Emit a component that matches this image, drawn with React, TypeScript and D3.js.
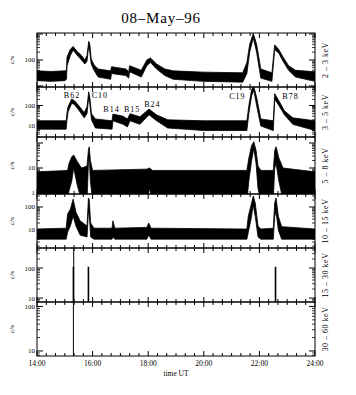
import React from 'react';
import * as d3 from 'd3';

const title = '08–May–96';
const xAxisTitle = 'time UT';
const yAxisTitle = 'c/s';
const xTickHours = [14, 16, 18, 20, 22, 24];
const xTickLabels = ['14:00', '16:00', '18:00', '20:00', '22:00', '24:00'];
const bandLabels = ['2 – 3 keV', '3 – 5 keV', '5 – 8 keV', '10 – 15 keV', '15 – 30 keV', '30 – 60 keV'];

// Panel 1: 2-3 keV (time in decimal hours UT, lower / upper envelope in c/s)
const p1Time = [14.0, 14.5, 15.0, 15.06, 15.08, 15.2, 15.3, 15.45, 15.6, 15.72, 15.8, 15.86, 15.9, 15.95, 16.05, 16.2, 16.65, 16.68, 17.2, 17.3, 17.33, 17.75, 17.95, 18.08, 18.3, 18.6, 18.9, 20.0, 21.4, 21.55, 21.65, 21.78, 21.9, 22.05, 22.45, 22.55, 22.7, 22.85, 23.05, 23.3, 24.0];
const p1Lo = [16, 15, 16, 18, 60, 150, 240, 150, 100, 70, 90, 350, 200, 70, 40, 22, 18, 30, 25, 20, 35, 22, 60, 80, 45, 25, 18, 15, 14, 30, 200, 700, 200, 20, 15, 250, 180, 90, 40, 22, 15];
const p1Hi = [38, 36, 38, 40, 130, 260, 330, 210, 150, 100, 150, 520, 400, 110, 65, 45, 38, 55, 45, 35, 60, 40, 100, 120, 70, 45, 38, 34, 32, 80, 400, 1050, 400, 45, 32, 380, 250, 130, 60, 40, 35];

// Panel 2: 3-5 keV
const p2Time = [14.0, 15.05, 15.08, 15.12, 15.25, 15.35, 15.5, 15.7, 15.8, 15.86, 15.9, 15.96, 16.1, 16.7, 16.73, 17.1, 17.25, 17.35, 17.7, 18.03, 18.3, 18.7, 20.0, 21.55, 21.62, 21.72, 21.8, 21.9, 22.05, 22.5, 22.55, 22.7, 22.9, 23.2, 24.0];
const p2Lo = [7, 7, 20, 50, 130, 110, 60, 25, 40, 250, 120, 20, 8, 7, 18, 12, 9, 18, 12, 35, 18, 8, 6, 6, 40, 300, 550, 100, 10, 6, 200, 100, 35, 12, 6];
const p2Hi = [18, 18, 45, 90, 210, 170, 100, 45, 90, 470, 250, 40, 22, 18, 38, 30, 22, 40, 28, 67, 35, 20, 18, 18, 100, 600, 850, 250, 22, 18, 380, 170, 55, 25, 18];

// Panel 3: 5-8 keV
const p3Time = [14.0, 15.1, 15.15, 15.25, 15.32, 15.45, 15.6, 15.8, 15.85, 15.88, 15.92, 16.0, 17.95, 18.05, 18.15, 21.55, 21.62, 21.72, 21.8, 21.88, 21.95, 22.05, 22.5, 22.55, 22.6, 22.7, 22.85, 24.0];
const p3Lo = [0.5, 0.5, 1.2, 3, 10, 2, 0.5, 0.5, 15, 30, 3, 0.5, 0.5, 1.5, 0.5, 0.5, 3, 20, 60, 15, 1.5, 0.5, 0.5, 10, 15, 3, 0.5, 0.5];
const p3Hi = [7, 8, 15, 28, 33, 18, 10, 12, 55, 71, 20, 8, 9, 10, 8, 8, 25, 80, 113, 50, 12, 8, 8, 50, 71, 25, 10, 7];

// Panel 4: 10-15 keV
const p4Time = [14.0, 15.05, 15.1, 15.2, 15.3, 15.4, 15.55, 15.8, 15.85, 15.88, 15.93, 16.05, 16.7, 16.73, 16.8, 17.95, 18.02, 18.1, 21.55, 21.6, 21.7, 21.78, 21.85, 21.95, 22.05, 22.5, 22.55, 22.6, 22.68, 22.8, 24.0];
const p4Lo = [4, 4, 8, 15, 40, 15, 6, 5, 60, 50, 5, 4, 4, 5, 4, 4, 6, 4, 4, 8, 30, 120, 40, 5, 4, 4, 40, 60, 10, 4, 4];
const p4Hi = [11, 12, 50, 80, 220, 60, 25, 15, 245, 200, 20, 12, 12, 25, 12, 13, 20, 12, 11, 40, 120, 300, 150, 15, 11, 12, 150, 245, 40, 14, 11];

// Panel 5: 15-30 keV (isolated non-zero bins)
const p5SpikeTime = [15.31, 15.32, 15.85, 22.58];
const p5SpikeVal = [110, 3000, 110, 110];

// Panel 6: 30-60 keV
const p6SpikeTime = [15.31];
const p6SpikeVal = [3000];

// Flare class annotations in panel 2
const flareNames = ['B62', 'C10', 'B14', 'B15', 'B24', 'C19', 'B78'];
const flareHour = [15.26, 16.26, 16.68, 17.42, 18.15, 21.21, 23.12];
const flareCount = [232, 232, 48, 48, 85, 207, 207];

const W = 356;
const H = 395;
const X0 = 37;
const X1 = 315;

const panelLayout = [
  { top: 33, bottom: 87, domain: [9.1, 1090], labels: [100] },
  { top: 87, bottom: 137, domain: [2.9, 800], labels: [10, 100] },
  { top: 137, bottom: 194, domain: [0.91, 174], labels: [1, 10] },
  { top: 194, bottom: 248, domain: [1.65, 367], labels: [10, 100] },
  { top: 248, bottom: 302, domain: [7.4, 464], labels: [10, 100] },
  { top: 302, bottom: 356, domain: [7.7, 126], labels: [10, 100] },
];

const bands = [
  { t: p1Time, lo: p1Lo, hi: p1Hi },
  { t: p2Time, lo: p2Lo, hi: p2Hi },
  { t: p3Time, lo: p3Lo, hi: p3Hi },
  { t: p4Time, lo: p4Lo, hi: p4Hi },
  null,
  null,
];
const spikes = [null, null, null, null, { t: p5SpikeTime, v: p5SpikeVal }, { t: p6SpikeTime, v: p6SpikeVal }];

const FONT = 'Liberation Serif, DejaVu Serif, serif';

export default function App() {
  const x = d3.scaleLinear().domain([14, 24]).range([X0, X1]);
  const minorHours = d3.range(14, 24.0001, 1 / 3);

  return (
    <svg width={W} height={H} style={{ position: 'absolute', left: 0, top: 0, background: '#fff' }}>
      <rect width={W} height={H} fill="#fff" />
      <text x={161} y={23} fontFamily={FONT} fontSize={15} letterSpacing={0.8} textAnchor="middle">{title}</text>
      {panelLayout.map((p, i) => {
        const y = d3.scaleLog().domain(p.domain).range([p.bottom, p.top]);
        const [lo, hi] = p.domain;
        const minor: number[] = [];
        const major: number[] = [];
        for (let e = Math.floor(Math.log10(lo)); e <= Math.ceil(Math.log10(hi)); e++) {
          const d = Math.pow(10, e);
          if (d >= lo && d <= hi) major.push(d);
          for (let k = 2; k <= 9; k++) {
            const v = k * d;
            if (v >= lo && v <= hi) minor.push(v);
          }
        }
        const b = bands[i];
        const s = spikes[i];
        let areaPath = '';
        if (b) {
          const pts = b.t.map((t, j) => ({ t, lo: b.lo[j], hi: b.hi[j] }));
          areaPath = d3.area<any>().x(d => x(d.t)).y0(d => y(d.lo)).y1(d => y(d.hi))(pts) || '';
        }
        const cy = (p.top + p.bottom) / 2;
        return (
          <g key={i}>
            <defs>
              <clipPath id={`clip${i}`}>
                <rect x={X0} y={p.top} width={X1 - X0} height={p.bottom - p.top} />
              </clipPath>
            </defs>
            <g clipPath={`url(#clip${i})`}>
              {b && <path d={areaPath} fill="#000" stroke="#000" strokeWidth={0.8} />}
              {s && s.t.map((t, j) => (
                <line key={j} x1={x(t)} x2={x(t)} y1={p.bottom} y2={y(Math.min(s.v[j], hi * 2))}
                  stroke="#000" strokeWidth={s.v[j] > hi ? 1 : 1.6} />
              ))}
            </g>
            <rect x={X0} y={p.top} width={X1 - X0} height={p.bottom - p.top} fill="none" stroke="#000" strokeWidth={1} />
            {/* x ticks, top and bottom, inward */}
            {minorHours.map((h, j) => {
              const isMaj = Math.abs((h - 14) / 2 - Math.round((h - 14) / 2)) < 1e-6;
              const len = isMaj ? 5 : 3;
              const xx = x(h);
              return (
                <g key={`xt${j}`}>
                  <line x1={xx} x2={xx} y1={p.bottom} y2={p.bottom - len} stroke="#000" strokeWidth={1} />
                  <line x1={xx} x2={xx} y1={p.top} y2={p.top + len} stroke="#000" strokeWidth={1} />
                </g>
              );
            })}
            {/* y ticks left and right */}
            {major.map((v, j) => (
              <g key={`ym${j}`}>
                <line x1={X0} x2={X0 + 6} y1={y(v)} y2={y(v)} stroke="#000" strokeWidth={1} />
                <line x1={X1} x2={X1 - 6} y1={y(v)} y2={y(v)} stroke="#000" strokeWidth={1} />
              </g>
            ))}
            {minor.map((v, j) => (
              <g key={`yn${j}`}>
                <line x1={X0} x2={X0 + 3} y1={y(v)} y2={y(v)} stroke="#000" strokeWidth={0.8} />
                <line x1={X1} x2={X1 - 3} y1={y(v)} y2={y(v)} stroke="#000" strokeWidth={0.8} />
              </g>
            ))}
            {p.labels.map((v, j) => (
              <text key={`yl${j}`} x={X0 - 2} y={y(v) + 2.5} fontFamily={FONT} fontSize={7} textAnchor="end">{v}</text>
            ))}
            <text transform={`translate(14,${cy}) rotate(-90)`} fontFamily={FONT} fontSize={7} textAnchor="middle">{yAxisTitle}</text>
            <text transform={`translate(328,${cy}) rotate(-90)`} fontFamily={FONT} fontSize={8} letterSpacing={0.5} textAnchor="middle">{bandLabels[i]}</text>
            {i === 1 && flareNames.map((n, j) => (
              <text key={`f${j}`} x={x(flareHour[j])} y={y(flareCount[j])} fontFamily={FONT} fontSize={8} letterSpacing={1} textAnchor="middle">{n}</text>
            ))}
          </g>
        );
      })}
      {xTickHours.map((h, j) => (
        <text key={`xl${j}`} x={x(h)} y={366} fontFamily={FONT} fontSize={7.5} textAnchor="middle">{xTickLabels[j]}</text>
      ))}
      <text x={176} y={376} fontFamily={FONT} fontSize={7.5} textAnchor="middle">{xAxisTitle}</text>
    </svg>
  );
}
